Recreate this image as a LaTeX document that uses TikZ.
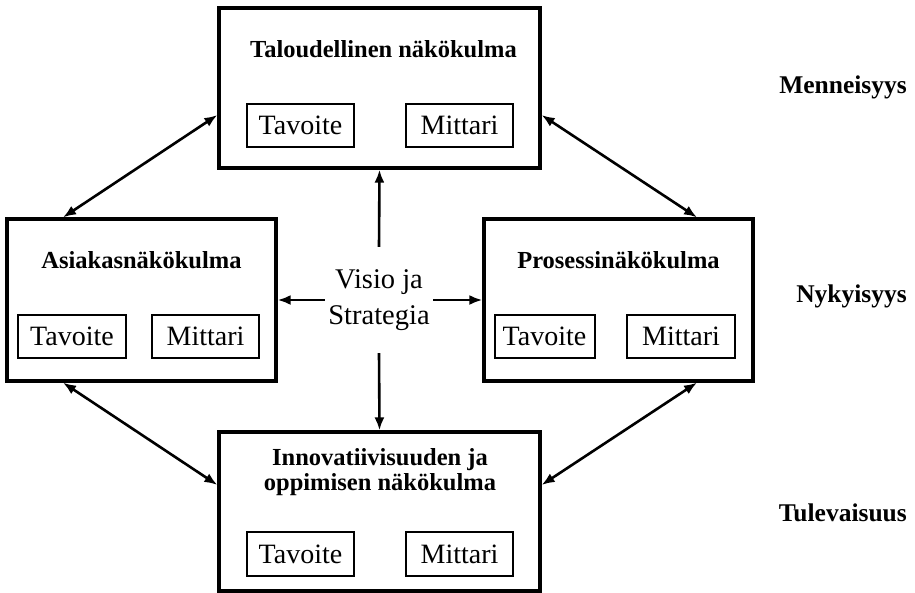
\documentclass[tikz,border=0pt]{standalone}
\usepackage{fontspec}
\setmainfont{Liberation Serif}
\usetikzlibrary{arrows.meta}
\begin{document}
\begin{tikzpicture}[x=1pt,y=-1pt,
  bigbox/.style={draw, line width=3.2pt, inner sep=0pt},
  smallbox/.style={draw, line width=2pt, inner sep=0pt, minimum height=43pt, font=\fontsize{28}{30}\selectfont},
  ttl/.style={inner sep=0pt, font=\fontsize{24.5}{25}\selectfont\bfseries},
  side/.style={inner sep=0pt, font=\fontsize{25.5}{27}\selectfont\bfseries},
  conn/.style={line width=2.6pt, -{Latex[length=13pt,width=10pt]}},
  bconn/.style={line width=2.6pt, {Latex[length=13pt,width=10pt]}-{Latex[length=13pt,width=10pt]}}]
\useasboundingbox (0,0) rectangle (915,592);
\fill[white] (0,0) rectangle (915,592);

% big boxes
\node[bigbox, minimum width=321pt, minimum height=160pt] (top) at (379.5,88) {};
\node[bigbox, minimum width=269pt, minimum height=162pt] (left) at (141.5,300) {};
\node[bigbox, minimum width=269pt, minimum height=162pt] (right) at (618.5,300) {};
\node[bigbox, minimum width=321pt, minimum height=159pt] (bottom) at (379.5,511.5) {};

% titles
\node[ttl, anchor=base] (toptitle) at (383.5,57) {Taloudellinen näkökulma};
\node[ttl, anchor=base] (lefttitle) at (141.5,268) {Asiakasnäkökulma};
\node[ttl, anchor=base] (righttitle) at (618.5,268) {Prosessinäkökulma};
\node[ttl, anchor=base] (bottitleA) at (380,465) {Innovatiivisuuden ja};
\node[ttl, anchor=base] (bottitleB) at (380,490) {oppimisen näkökulma};

% inner boxes
\node[smallbox, minimum width=107pt] (topT) at (300.5,125.5) {Tavoite};
\node[smallbox, minimum width=107pt] (topM) at (459.5,125.5) {Mittari};
\node[smallbox, minimum width=108pt] (leftT) at (72,336.5) {Tavoite};
\node[smallbox, minimum width=107pt] (leftM) at (205.5,336.5) {Mittari};
\node[smallbox, minimum width=100pt] (rightT) at (544.5,336.5) {Tavoite};
\node[smallbox, minimum width=108pt] (rightM) at (681,336.5) {Mittari};
\node[smallbox, minimum width=107pt, minimum height=44pt] (botT) at (300.5,554) {Tavoite};
\node[smallbox, minimum width=107pt, minimum height=44pt] (botM) at (459.5,554) {Mittari};

% centre
\node[minimum width=108pt, minimum height=106pt, inner sep=0pt, align=center,
      font=\fontsize{28.5}{36}\selectfont] (visio) at (379,300) {Visio ja\\Strategia};

% side labels
\node[side, anchor=base east] (past) at (907,93) {Menneisyys};
\node[side, anchor=base east] (present) at (907,302) {Nykyisyys};
\node[side, anchor=base east] (future) at (907,521) {Tulevaisuus};

% arrows
\draw[conn] (visio.north) -- (top.south);
\draw[conn] (visio.south) -- (bottom.north);
\draw[conn] (visio.west) -- (left.east);
\draw[conn] (visio.east) -- (right.west);

\draw[bconn] ([yshift=-27pt]top.west) -- ([xshift=-78.5pt]left.north);
\draw[bconn] ([yshift=-27pt]top.east) -- ([xshift=78.5pt]right.north);
\draw[bconn] ([xshift=-78.5pt]left.south) -- ([yshift=26.5pt]bottom.west);
\draw[bconn] ([xshift=78.5pt]right.south) -- ([yshift=26.5pt]bottom.east);
\end{tikzpicture}
\end{document}
